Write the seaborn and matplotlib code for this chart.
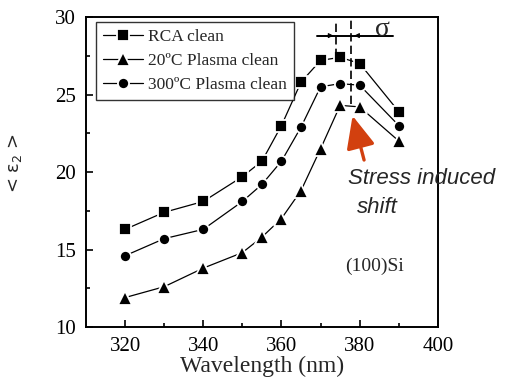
import pandas as pd
import numpy as np
import seaborn as sns
import matplotlib.pyplot as plt

# wavelength (nm)
wavelength = [320, 330, 340, 350, 355, 360, 365, 370, 375, 380, 390]
rca_clean = [16.3, 17.4, 18.1, 19.7, 20.7, 23.0, 25.8, 27.2, 27.4, 27.0, 23.9]
plasma_20c = [11.9, 12.6, 13.8, 14.8, 15.8, 17.0, 18.8, 21.5, 24.3, 24.2, 22.0]
plasma_300c = [14.6, 15.7, 16.3, 18.1, 19.2, 20.7, 22.9, 25.5, 25.7, 25.6, 23.0]

series_names = ["RCA clean", "20ºC Plasma clean", "300ºC Plasma clean"]
series_values = [rca_clean, plasma_20c, plasma_300c]
series_markers = ["s", "^", "o"]
marker_sizes = [8, 10, 8]

sns.set_theme(style="ticks")
plt.rcParams['font.family'] = ['Liberation Serif', 'DejaVu Sans']

fig = plt.figure(figsize=(5.1, 3.77), dpi=100)
ax = fig.add_axes([0.1686, 0.1326, 0.690, 0.8223])

for name, vals, mk, ms in zip(series_names, series_values, series_markers, marker_sizes):
    df = pd.DataFrame({"Wavelength": wavelength, "eps2": vals})
    sns.lineplot(data=df, x="Wavelength", y="eps2", ax=ax, color="black", lw=0.9,
                 marker=mk, markersize=ms, markeredgecolor="white", markeredgewidth=1.3,
                 label=name)

ax.set_xlim(310, 400)
ax.set_ylim(10, 30)
ax.set_xticks([320, 340, 360, 380, 400])
ax.set_xticks([330, 350, 370, 390], minor=True)
ax.set_yticks([10, 15, 20, 25, 30])
ax.set_yticks([12.5, 17.5, 22.5, 27.5], minor=True)
ax.tick_params(which="both", direction="in", top=False, right=False, width=1.2, colors="black")
ax.tick_params(which="major", length=5, labelsize=15, pad=7)
ax.tick_params(which="minor", length=3)
for s in ax.spines.values():
    s.set_linewidth(1.4)
    s.set_color("black")

ax.set_xlabel("Wavelength (nm)", fontsize=17, labelpad=0)
ax.set_ylabel("< ε$_2$ >", fontsize=13, family=["DejaVu Sans"])
ax.yaxis.set_label_coords(-0.175, 0.53)

leg = ax.legend(loc="upper left", bbox_to_anchor=(0.028, 0.984), fontsize=12.5,
                frameon=True, fancybox=False, edgecolor="black", handlelength=2.3,
                borderpad=0.4, labelspacing=0.45, handletextpad=0.3, borderaxespad=0)
leg.get_frame().set_linewidth(1.0)

# sigma marker: dashed peak lines
ax.plot([374, 374], [27.4, 29.8], ls=(0, (5, 2.5)), color="black", lw=1.2)
ax.plot([377.9, 377.9], [24.4, 29.8], ls=(0, (5, 2.5)), color="black", lw=1.2)
ax.plot([369.2, 388.4], [28.8, 28.8], color="black", lw=1.4)
ax.annotate("", xy=(374, 28.8), xytext=(372.3, 28.8),
            arrowprops=dict(arrowstyle="-|>", color="black", lw=0.8, mutation_scale=7))
ax.annotate("", xy=(377.9, 28.8), xytext=(379.6, 28.8),
            arrowprops=dict(arrowstyle="-|>", color="black", lw=0.8, mutation_scale=7))
ax.text(385.8, 29.2, "σ", fontsize=20, ha="center", va="center")

ax.annotate("", xy=(378.0, 23.8), xytext=(381.3, 20.6),
            arrowprops=dict(arrowstyle="-|>,head_width=0.4,head_length=0.9",
                            color="#d2400f", lw=2.4, mutation_scale=22))
ax.text(377.0, 19.6, "Stress induced", fontsize=16, style="italic", family=["Liberation Sans"],
        ha="left", va="center")
ax.text(379.3, 17.7, "shift", fontsize=16, style="italic", family=["Liberation Sans"],
        ha="left", va="center")
ax.text(376.4, 13.9, "(100)Si", fontsize=14, ha="left", va="center")

plt.savefig("out.png", dpi=100)
plt.close()
